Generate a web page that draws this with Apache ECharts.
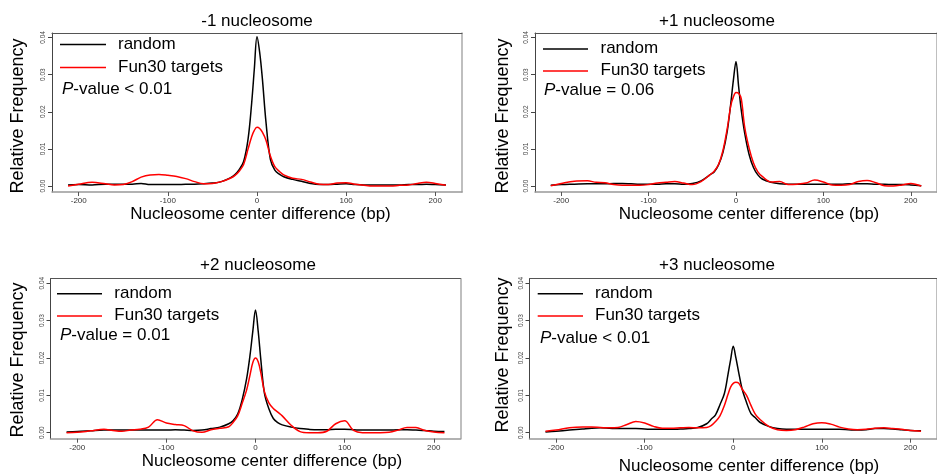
<!DOCTYPE html>
<html>
<head>
<meta charset="utf-8">
<script src="https://cdn.jsdelivr.net/npm/echarts@6/dist/echarts.min.js"></script>
<style>
html,body{margin:0;padding:0;background:#fff;}
#c{width:937px;height:474px;}
</style>
</head>
<body>
<div id="c"></div>
<script>
// ---- data ----
const titles = ['-1 nucleosome', '+1 nucleosome', '+2 nucleosome', '+3 nucleosome'];
const pValues = [' < 0.01', ' = 0.06', ' = 0.01', ' < 0.01'];
const seriesNames = ['random', 'Fun30 targets'];
const xTicks = [-200, -100, 0, 100, 200];
const yTicks = [0, 0.01, 0.02, 0.03, 0.04];
const bp = [-212,-200,-185,-170,-160,-150,-140,-130,-120,-110,
            -100,-90,-80,-70,-60,-50,-40,-30,-25,-20,
            -15,-10,-6,-3,0,3,6,10,15,20,
            25,30,40,50,60,70,80,90,100,110,
            120,130,140,150,160,170,180,190,200,212];

const p1Random = [.0003,.0004,.0003,.0005,.0005,.0005,.0005,.0007,.0004,.0004,
                  .0004,.0004,.0005,.0005,.0006,.0008,.0012,.0022,.0030,.0044,
                  .0066,.0127,.0223,.0315,.0402,.0360,.0290,.0174,.0072,.0043,
                  .0032,.0025,.0018,.0013,.0007,.0004,.0004,.0005,.0006,.0004,
                  .0003,.0003,.0003,.0003,.0003,.0004,.0004,.0005,.0004,.0003];
const p1Fun30  = [.0000,.0005,.0010,.0006,.0003,.0004,.0012,.0024,.0030,.0031,
                  .0029,.0026,.0020,.0012,.0006,.0007,.0012,.0021,.0028,.0040,
                  .0058,.0100,.0133,.0150,.0158,.0155,.0145,.0124,.0081,.0052,
                  .0040,.0030,.0021,.0018,.0011,.0005,.0004,.0008,.0009,.0005,
                  .0002,.0000,.0000,.0000,.0002,.0003,.0007,.0010,.0007,.0002];
const p2Random = [.0002,.0004,.0005,.0006,.0006,.0006,.0007,.0007,.0006,.0005,
                  .0005,.0005,.0006,.0006,.0005,.0007,.0014,.0030,.0038,.0057,
                  .0090,.0148,.0222,.0285,.0335,.0268,.0205,.0142,.0085,.0050,
                  .0030,.0019,.0010,.0006,.0005,.0005,.0005,.0005,.0005,.0005,
                  .0005,.0006,.0006,.0006,.0005,.0005,.0004,.0004,.0003,.0001];
const p2Fun30  = [.0001,.0007,.0013,.0014,.0010,.0009,.0004,.0002,.0002,.0002,
                  .0004,.0008,.0010,.0012,.0008,.0004,.0012,.0030,.0040,.0058,
                  .0095,.0155,.0216,.0240,.0252,.0250,.0235,.0158,.0102,.0062,
                  .0038,.0026,.0011,.0012,.0004,.0005,.0008,.0016,.0011,.0003,
                  .0002,.0004,.0012,.0015,.0009,.0001,.0000,.0003,.0007,.0000];
const p3Random = [.0002,.0003,.0005,.0007,.0007,.0007,.0007,.0007,.0007,.0007,
                  .0007,.0008,.0007,.0006,.0007,.0011,.0015,.0024,.0033,.0050,
                  .0088,.0144,.0210,.0272,.0328,.0272,.0195,.0106,.0064,.0038,
                  .0027,.0021,.0015,.0011,.0009,.0008,.0008,.0009,.0009,.0008,
                  .0007,.0007,.0007,.0007,.0008,.0008,.0007,.0006,.0004,.0003];
const p3Fun30  = [.0000,.0001,.0005,.0009,.0006,.0004,.0007,.0009,.0015,.0035,
                  .0026,.0022,.0019,.0005,.0001,.0008,.0012,.0016,.0028,.0045,
                  .0078,.0114,.0156,.0188,.0200,.0190,.0160,.0110,.0080,.0065,
                  .0055,.0045,.0020,.0003,.0000,.0000,.0004,.0024,.0032,.0006,
                  .0000,.0000,.0000,.0001,.0007,.0014,.0014,.0006,.0002,.0000];
const p4Random = [.0002,.0004,.0007,.0010,.0012,.0013,.0012,.0011,.0011,.0011,
                  .0010,.0009,.0009,.0009,.0010,.0011,.0014,.0024,.0036,.0048,
                  .0075,.0105,.0155,.0195,.0231,.0200,.0163,.0117,.0081,.0051,
                  .0040,.0028,.0017,.0011,.0009,.0009,.0009,.0009,.0009,.0009,
                  .0009,.0008,.0007,.0008,.0011,.0011,.0010,.0008,.0006,.0005];
const p4Fun30  = [.0004,.0007,.0013,.0015,.0015,.0014,.0013,.0014,.0022,.0030,
                  .0026,.0017,.0012,.0012,.0013,.0014,.0013,.0014,.0019,.0030,
                  .0045,.0073,.0102,.0122,.0132,.0135,.0133,.0117,.0100,.0073,
                  .0049,.0036,.0017,.0008,.0006,.0008,.0015,.0024,.0027,.0023,
                  .0015,.0010,.0008,.0009,.0012,.0013,.0011,.0009,.0006,.0004];
const panelData = [[p1Random, p1Fun30], [p2Random, p2Fun30], [p3Random, p3Fun30], [p4Random, p4Fun30]];

// ---- layout ----
const FONT = '"Liberation Sans", Arial, Helvetica, sans-serif';
const panels = [
  {grid:{left:52, top:33, width:410, height:159},
   title:[257,21], ytitle:[18,116], xtitle:[260.5,214],
   leg:{x0:60, x1:106, y1:44.5, y2:67.5, tx:118, px:62, py:89}},
  {grid:{left:535, top:33, width:411, height:159},
   title:[717,21], ytitle:[503.5,116], xtitle:[749,214],
   leg:{x0:543, x1:588, y1:49, y2:71, tx:600.5, px:544, py:90}},
  {grid:{left:50.5, top:278.7, width:410, height:160},
   title:[258,265.5], ytitle:[18.3,360], xtitle:[272,461],
   leg:{x0:57, x1:102, y1:293.7, y2:316, tx:114.3, px:60, py:335.5}},
  {grid:{left:529.5, top:278.7, width:412, height:160},
   title:[717,265.5], ytitle:[503.5,355], xtitle:[749,466],
   leg:{x0:537.7, x1:583, y1:293.7, y2:316, tx:595, px:540, py:338}}
];
const colors = ['#000000', '#ff0000'];
const XMIN = -230, XMAX = 230, YMIN = -0.0016, YMAX = 0.0412;

const grid = [], xAxis = [], yAxis = [], series = [], graphic = [];
panels.forEach((p, i) => {
  grid.push(Object.assign({containLabel:false, show:false}, p.grid));
  // bottom x axis
  xAxis.push({type:'value', gridIndex:i, position:'bottom', min:XMIN, max:XMAX,
    axisLine:{show:true, onZero:false, lineStyle:{color:'#999', width:1.5}},
    axisTick:{show:true, customValues:xTicks, length:4, lineStyle:{color:'#555', width:1}},
    axisLabel:{show:true, customValues:xTicks, fontSize:8, color:'#333', margin:5, fontFamily:FONT},
    splitLine:{show:false}});
  // top border
  xAxis.push({type:'value', gridIndex:i, position:'top', min:XMIN, max:XMAX,
    axisLine:{show:true, onZero:false, lineStyle:{color:'#555', width:1}},
    axisTick:{show:false}, axisLabel:{show:false}, splitLine:{show:false}});
  // left y axis
  yAxis.push({type:'value', gridIndex:i, position:'left', min:YMIN, max:YMAX,
    axisLine:{show:true, onZero:false, lineStyle:{color:'#444', width:1}},
    axisTick:{show:true, customValues:yTicks, length:4, lineStyle:{color:'#444', width:1}},
    axisLabel:{show:true, customValues:yTicks, rotate:90, fontSize:6.5, color:'#444', margin:5,
      fontFamily:FONT, formatter:v => Number(v).toFixed(2)},
    splitLine:{show:false}});
  // right border
  yAxis.push({type:'value', gridIndex:i, position:'right', min:YMIN, max:YMAX,
    axisLine:{show:true, onZero:false, lineStyle:{color:'#aaa', width:1.5}},
    axisTick:{show:false}, axisLabel:{show:false}, splitLine:{show:false}});

  panelData[i].forEach((vals, k) => {
    series.push({type:'line', name:seriesNames[k], xAxisIndex:2*i, yAxisIndex:2*i,
      data: bp.map((x, j) => [x, vals[j]]), showSymbol:false, symbol:'none',
      smooth:0.35, lineStyle:{color:colors[k], width:1.5}, z: k === 0 ? 3 : 4,
      animation:false, silent:true});
  });

  // title
  graphic.push({type:'text', x:p.title[0], y:p.title[1],
    style:{text:titles[i], font:'17px ' + FONT, fill:'#000', align:'center', verticalAlign:'middle'}});
  // axis titles
  graphic.push({type:'text', x:p.xtitle[0], y:p.xtitle[1],
    style:{text:'Nucleosome center difference (bp)', font:'17px ' + FONT, fill:'#000', align:'center', verticalAlign:'middle'}});
  graphic.push({type:'text', x:p.ytitle[0], y:p.ytitle[1], rotation:Math.PI/2,
    style:{text:'Relative Frequency', font:'18px ' + FONT, fill:'#000', align:'center', verticalAlign:'middle'}});
  // legend
  const L = p.leg;
  [L.y1, L.y2].forEach((yy, k) => {
    graphic.push({type:'line', shape:{x1:L.x0, y1:yy, x2:L.x1, y2:yy},
      style:{stroke:colors[k], lineWidth:1.4}});
    graphic.push({type:'text', x:L.tx, y:yy - 0.5,
      style:{text:seriesNames[k], font:'17px ' + FONT, fill:'#000', align:'left', verticalAlign:'middle'}});
  });
  graphic.push({type:'text', x:L.px, y:L.py,
    style:{text:'{i|P}-value' + pValues[i], font:'17px ' + FONT, fill:'#000', align:'left', verticalAlign:'middle',
      rich:{i:{fontStyle:'italic', fontSize:17, fontFamily:FONT, fill:'#000'}}}});
});

const chart = echarts.init(document.getElementById('c'), null, {renderer:'canvas'});
chart.setOption({
  animation:false,
  backgroundColor:'#fff',
  grid, xAxis, yAxis, series, graphic
});
</script>
</body>
</html>
